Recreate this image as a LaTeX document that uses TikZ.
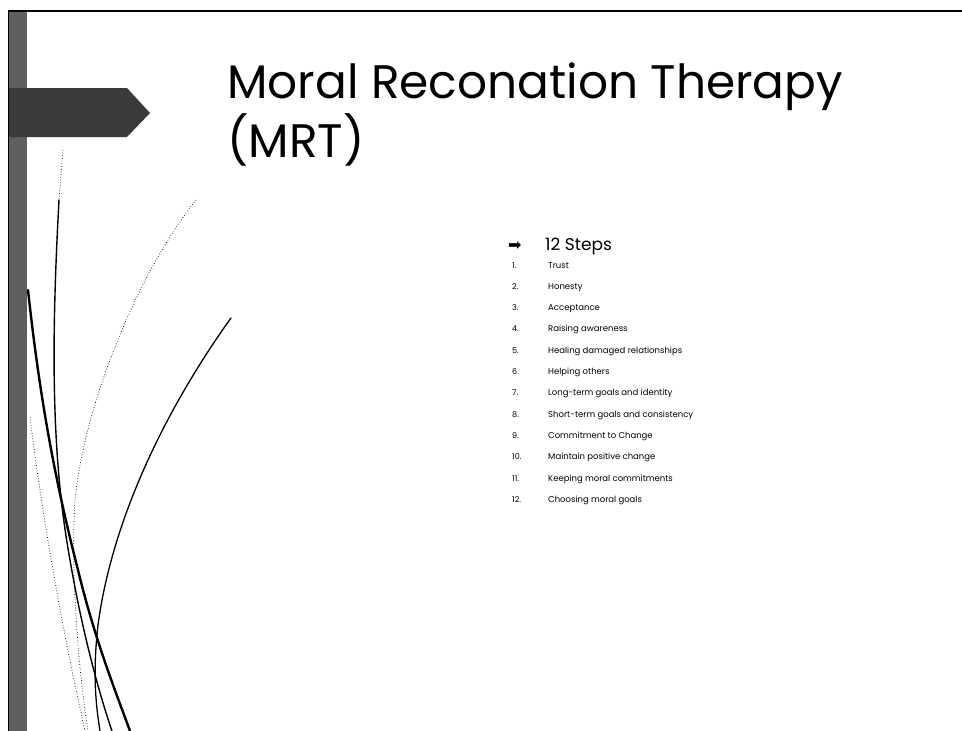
\documentclass[tikz,border=0pt]{standalone}
\usepackage{fontspec}
\setmainfont{Poppins}
\newfontfamily\symfont{DejaVu Sans}
\usetikzlibrary{positioning}
\definecolor{barshade}{RGB}{95,95,95}
\definecolor{bannershade}{RGB}{58,58,58}
\tikzset{swoop/.style={line width=1pt,line cap=round},dotswoop/.style={dotted,line width=.7pt},
 stepnum/.style={anchor=base west,inner sep=0pt,font=\fontsize{8}{9}\selectfont},
 steptext/.style={anchor=base west,inner sep=0pt,font=\fontsize{8.5}{10}\selectfont}}

\begin{document}
\begin{tikzpicture}[x=1pt,y=-1pt]
\useasboundingbox (0,0) rectangle (962,731);
% frame and side bar
\fill[barshade] (9,11) rectangle (27,731);
\draw[line width=1.6pt] (8.5,731)--(8.5,11)--(962,11);
\fill[bannershade] (9,88)--(127,88)--(150,113)--(127,137)--(9,137)--cycle;
% swoops
\draw[dotswoop] (63,150)--(59,200);
\draw[swoop,line width=1.4pt] (59,200) .. controls (52,330) and (50,450) .. (70,560) .. controls (82,630) and (98,690) .. (112,731);
\draw[swoop,line width=2.4pt] (28,290) .. controls (40,400) and (55,480) .. (78,570) .. controls (95,640) and (115,690) .. (130,731);
\draw[dotswoop] (196,200) .. controls (140,270) and (85,400) .. (75,500) .. controls (70,580) and (80,680) .. (88,731);
\draw[dotswoop] (30,417) .. controls (40,500) and (60,620) .. (85,731);
\draw[swoop,line width=1.3pt] (231,318) .. controls (165,410) and (112,520) .. (98,625) .. controls (93,670) and (95,700) .. (100,731);
% title
\node[anchor=base west,inner sep=0pt,font=\fontsize{47}{56}\selectfont] (title) at (227,98) {Moral Reconation Therapy};
\node[anchor=base west,inner sep=0pt,font=\fontsize{47}{56}\selectfont] (mrt) at (227,157) {(MRT)};
% list
\node[anchor=base west,inner sep=0pt,font=\symfont\fontsize{16}{18}\selectfont] (bullet) at (508,250) {➡};
\node[anchor=base west,inner sep=0pt,font=\fontsize{17}{20}\selectfont] (steps) at (545,250) {12 Steps};
\node[stepnum] (n1) at (512,268) {1.};     \node[steptext] (s1) at (548,268) {Trust};
\node[stepnum] (n2) at (512,289.3) {2.};   \node[steptext] (s2) at (548,289.3) {Honesty};
\node[stepnum] (n3) at (512,310.6) {3.};   \node[steptext] (s3) at (548,310.6) {Acceptance};
\node[stepnum] (n4) at (512,331.9) {4.};   \node[steptext] (s4) at (548,331.9) {Raising awareness};
\node[stepnum] (n5) at (512,353.2) {5.};   \node[steptext] (s5) at (548,353.2) {Healing damaged relationships};
\node[stepnum] (n6) at (512,374.5) {6.};   \node[steptext] (s6) at (548,374.5) {Helping others};
\node[stepnum] (n7) at (512,395.8) {7.};   \node[steptext] (s7) at (548,395.8) {Long-term goals and identity};
\node[stepnum] (n8) at (512,417.1) {8.};   \node[steptext] (s8) at (548,417.1) {Short-term goals and consistency};
\node[stepnum] (n9) at (512,438.4) {9.};   \node[steptext] (s9) at (548,438.4) {Commitment to Change};
\node[stepnum] (n10) at (512,459.7) {10.}; \node[steptext] (s10) at (548,459.7) {Maintain positive change};
\node[stepnum] (n11) at (512,481) {11.};   \node[steptext] (s11) at (548,481) {Keeping moral commitments};
\node[stepnum] (n12) at (512,502.3) {12.}; \node[steptext] (s12) at (548,502.3) {Choosing moral goals};
\end{tikzpicture}
\end{document}
